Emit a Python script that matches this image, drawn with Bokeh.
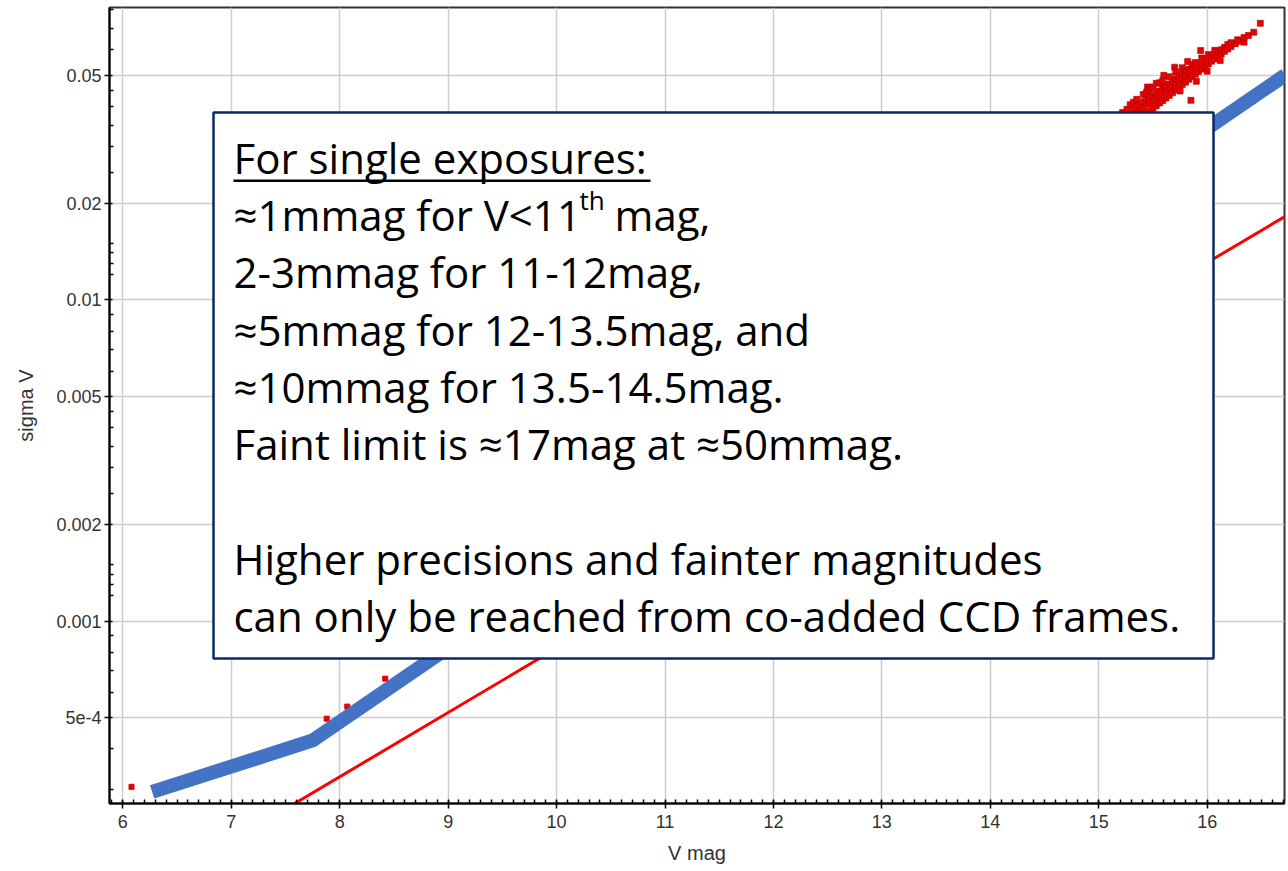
import math
from bokeh.plotting import figure
from bokeh.models import (BoxAnnotation, Label, SingleIntervalTicker, FixedTicker,
                          CustomJSTickFormatter)
from bokeh.embed import file_html
from bokeh.resources import INLINE

# ---------------- data ----------------
# envelope (thick blue line): V mag vs sigma V
blue_v = [6.27, 7.75, 16.72]
blue_sigma = [2.94e-4, 4.25e-4, 0.0501]

# theoretical noise line (thin red)
red_v = [7.58, 16.72]
red_sigma = [2.70e-4, 0.0182]

# isolated bright stars
bright_v = [6.08, 7.88, 8.07, 8.42]
bright_sigma = [3.05e-4, 4.97e-4, 5.42e-4, 6.62e-4]

# faint star cluster (upper right): V mag and the sigma values of stars near it
faint_rows = [
    (15.22, [0.0352, 0.0383]),
    (15.26, [0.0340, 0.0366, 0.0392]),
    (15.29, [0.0352, 0.0376, 0.0405]),
    (15.32, [0.0345, 0.0370, 0.0390, 0.0412]),
    (15.35, [0.0358, 0.0385, 0.0399, 0.0421]),
    (15.38, [0.0365, 0.0392, 0.0405]),
    (15.41, [0.0374, 0.0398, 0.0414, 0.0436]),
    (15.44, [0.0380, 0.0407, 0.0420, 0.0443]),
    (15.45, [0.0460]),
    (15.47, [0.0388, 0.0412, 0.0428, 0.0452]),
    (15.50, [0.0395, 0.0418, 0.0431, 0.0460]),
    (15.53, [0.0402, 0.0426, 0.0440, 0.0472]),
    (15.56, [0.0410, 0.0433, 0.0447, 0.0474]),
    (15.59, [0.0417, 0.0440, 0.0455, 0.0481]),
    (15.60, [0.0500]),
    (15.62, [0.0425, 0.0450, 0.0462]),
    (15.65, [0.0433, 0.0457, 0.0470, 0.0495]),
    (15.68, [0.0441, 0.0466, 0.0479]),
    (15.70, [0.0530]),
    (15.71, [0.0450, 0.0474, 0.0487, 0.0512]),
    (15.74, [0.0460, 0.0481, 0.0496]),
    (15.75, [0.0447]),
    (15.77, [0.0468, 0.0491, 0.0505, 0.0528]),
    (15.80, [0.0476, 0.0499, 0.0514]),
    (15.82, [0.0552]),
    (15.83, [0.0486, 0.0509, 0.0522]),
    (15.85, [0.0418]),
    (15.86, [0.0495, 0.0518, 0.0540]),
    (15.89, [0.0504, 0.0527, 0.0548]),
    (15.90, [0.0479]),
    (15.92, [0.0514, 0.0536]),
    (15.94, [0.0597]),
    (15.95, [0.0523, 0.0545, 0.0566]),
    (15.98, [0.0532, 0.0554]),
    (16.00, [0.0515]),
    (16.01, [0.0542, 0.0563, 0.0580]),
    (16.04, [0.0553, 0.0572]),
    (16.07, [0.0562, 0.0582, 0.0598]),
    (16.10, [0.0572, 0.0592]),
    (16.12, [0.0556]),
    (16.13, [0.0583, 0.0601]),
    (16.16, [0.0594, 0.0611]),
    (16.19, [0.0604, 0.0624]),
    (16.22, [0.0615, 0.0632]),
    (16.26, [0.0627]),
    (16.28, [0.0645]),
    (16.31, [0.0638]),
    (16.34, [0.0634, 0.0656]),
    (16.38, [0.0665]),
    (16.43, [0.0681]),
    (16.49, [0.0726]),
]
faint_v = [v for v, sig in faint_rows for _ in sig]
faint_sigma = [s for v, sig in faint_rows for s in sig]

y_major = [5e-4, 0.001, 0.002, 0.005, 0.01, 0.02, 0.05]
y_minor = [3e-4, 4e-4, 6e-4, 7e-4, 8e-4, 9e-4, 0.0012, 0.0013, 0.0014, 0.0015,
           0.0025, 0.003, 0.0035, 0.004, 0.0045, 0.006, 0.007, 0.008, 0.009,
           0.012, 0.013, 0.014, 0.015, 0.025, 0.03, 0.035, 0.04, 0.045, 0.06, 0.07, 0.08]

note_lines = [
    "For single exposures:",
    "\u22481mmag for V<11",
    "2-3mmag for 11-12mag,",
    "\u22485mmag for 12-13.5mag, and",
    "\u224810mmag for 13.5-14.5mag.",
    "Faint limit is \u224817mag at \u224850mmag.",
    "",
    "Higher precisions and fainter magnitudes",
    "can only be reached from co-added CCD frames.",
]

# ---------------- layout ----------------
W, H = 1288, 871
ML, MR, MT, MB = 109, 4, 7, 68
X0, X1 = 5.877, 16.713
Y0, Y1 = 2.706e-4, 0.0813

p = figure(width=W, height=H, x_range=(X0, X1), y_range=(Y0, Y1),
           y_axis_type="log", output_backend="svg", toolbar_location=None,
           min_border_left=ML, min_border_right=MR, min_border_top=MT,
           min_border_bottom=MB, background_fill_color="white",
           border_fill_color="white")

FW = W - ML - MR
FH = H - MT - MB


def px_x(px):
    return X0 + (px - ML) / FW * (X1 - X0)


def px_y(py):
    lt, lb = math.log10(Y1), math.log10(Y0)
    return 10 ** (lt - (py - MT) / FH * (lt - lb))


p.outline_line_color = "#333333"
p.outline_line_width = 2

# axes
p.xaxis.ticker = SingleIntervalTicker(interval=1, num_minor_ticks=10)
p.yaxis.ticker = FixedTicker(ticks=y_major, minor_ticks=y_minor)
p.yaxis.formatter = CustomJSTickFormatter(
    code="return tick < 0.0009 ? (tick / 1e-4).toFixed(0) + 'e-4' : String(tick);")
for ax in (p.xaxis[0], p.yaxis[0]):
    ax.axis_line_color = "black"
    ax.axis_line_width = 2
    ax.major_tick_line_color = "black"
    ax.major_tick_line_width = 1.5
    ax.minor_tick_line_color = "black"
    ax.minor_tick_line_width = 1.5
    ax.major_tick_in = 3
    ax.major_tick_out = 5
    ax.minor_tick_in = 4
    ax.minor_tick_out = 0
    ax.major_label_text_font = "Liberation Sans"
    ax.major_label_text_font_size = "18px"
    ax.major_label_text_color = "#333333"
    ax.axis_label_text_font = "Liberation Sans"
    ax.axis_label_text_font_size = "20px"
    ax.axis_label_text_font_style = "normal"
    ax.axis_label_text_color = "#333333"
p.xaxis.axis_label = "V mag"
p.yaxis.axis_label = "sigma V"
p.xaxis.major_label_standoff = 6
p.xaxis.axis_label_standoff = 11
p.yaxis.major_label_standoff = 3
p.yaxis.axis_label_standoff = 16

p.xgrid.ticker = SingleIntervalTicker(interval=1)
p.ygrid.ticker = FixedTicker(ticks=y_major)
for g in (p.xgrid[0], p.ygrid[0]):
    g.grid_line_color = "#cccccc"
    g.grid_line_width = 1.5

# glyphs
p.line(red_v, red_sigma, line_color="#ff0000", line_width=3)
p.scatter(bright_v, bright_sigma, marker="square", size=5,
          fill_color="#ee0000", line_color="#dd0000")
p.scatter(faint_v, faint_sigma, marker="square", size=6,
          fill_color="#ee0000", line_color="#a00000", line_width=0.6)
p.line(blue_v, blue_sigma, line_color="#4472C4", line_width=14, line_cap="butt",
       line_join="miter")

# note box
p.add_layout(BoxAnnotation(left=px_x(213), right=px_x(1213), top=px_y(112),
                           bottom=px_y(658), fill_color="white", fill_alpha=1.0,
                           line_color="#0b2a66", line_alpha=1.0, line_width=2.5))

FS = "42px"
line_y = [157, 214, 271, 329, 386, 443, 500, 558, 615]
for txt, ly in zip(note_lines, line_y):
    if txt:
        p.add_layout(Label(x=px_x(233), y=px_y(ly), text=txt,
                           text_font="Open Sans", text_font_size=FS,
                           text_color="black", text_baseline="middle"))
p.add_layout(Label(x=px_x(579), y=px_y(199), text="th", text_font="Open Sans",
                   text_font_size="26px", text_color="black", text_baseline="middle"))
p.add_layout(Label(x=px_x(614), y=px_y(214), text="mag,", text_font="Open Sans",
                   text_font_size=FS, text_color="black", text_baseline="middle"))
p.add_layout(BoxAnnotation(left=px_x(233), right=px_x(650), top=px_y(179),
                           bottom=px_y(181.5), fill_color="black", fill_alpha=1.0,
                           line_alpha=0))

open("out.html", "w").write(file_html(p, INLINE))
